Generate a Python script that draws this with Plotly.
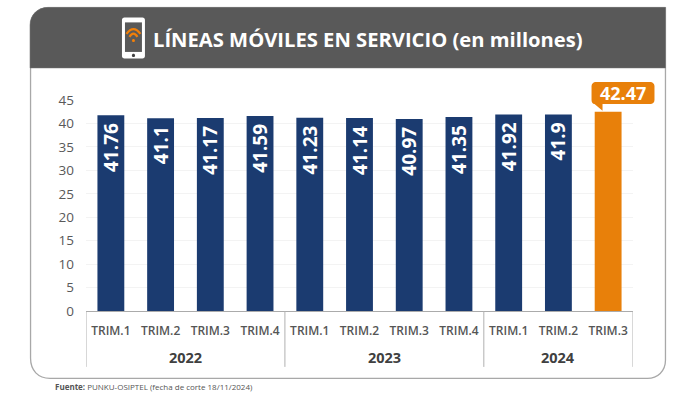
import plotly.graph_objects as go

years = ["2022", "2023", "2024"]
year_spans = [(0, 3), (4, 7), (8, 10)]
quarters = ["TRIM.1", "TRIM.2", "TRIM.3", "TRIM.4", "TRIM.1", "TRIM.2", "TRIM.3", "TRIM.4", "TRIM.1", "TRIM.2", "TRIM.3"]
values = [41.76, 41.1, 41.17, 41.59, 41.23, 41.14, 40.97, 41.35, 41.92, 41.9, 42.47]
value_labels = ["41.76", "41.1", "41.17", "41.59", "41.23", "41.14", "40.97", "41.35", "41.92", "41.9", ""]
colors = ["#1b3b70"] * 10 + ["#e8800a"]
y_ticks = [0, 5, 10, 15, 20, 25, 30, 35, 40, 45]
title_text = "LÍNEAS MÓVILES EN SERVICIO (en millones)"
source_bold = "Fuente:"
source_text = "PUNKU-OSIPTEL (fecha de corte 18/11/2024)"
callout_text = "42.47"

W, H = 700, 395
FONT = "Open Sans"
L, R, T, B = 86, 66.5, 100, 84.3
positions = list(range(len(values)))


def X(x):
    return (x - L) / (W - L - R)


def Y(y):
    return (H - B - y) / (H - T - B)


def path(*cmds):
    out = []
    for c in cmds:
        if isinstance(c, str):
            out.append(c)
        else:
            out.append(f"{X(c[0]):.5f},{Y(c[1]):.5f}")
    return " ".join(out)


def shape(p, fill=None, line=None, width=0, layer="below"):
    d = dict(type="path", path=p, xref="paper", yref="paper", layer=layer,
             line=dict(color=line or "rgba(0,0,0,0)", width=width))
    if fill:
        d["fillcolor"] = fill
    return d


def dot(cx, cy, r, fill):
    k = r * 1.33
    return shape(path("M", (cx - r, cy), "C", (cx - r, cy - k), (cx + r, cy - k), (cx + r, cy),
                      "C", (cx + r, cy + k), (cx - r, cy + k), (cx - r, cy), "Z"), fill=fill)


shapes = []
# card
shapes.append(shape(path("M", (30.5, 25), "C", (30.5, 15), (38, 8), (48, 8), "L", (666, 8), "L", (666, 360),
                         "C", (666, 371), (658, 378), (648, 378), "L", (50, 378),
                         "C", (38, 378), (30.5, 370), (30.5, 358), "Z"),
                    fill="#ffffff", line="#a8a8a8", width=1.3))
# header
shapes.append(shape(path("M", (30, 25), "C", (30, 15), (38, 7.5), (48, 7.5), "L", (666, 7.5), "L", (666, 68), "L", (30, 68), "Z"),
                    fill="#595959", line="#6e6e6e", width=0.5))
# phone
shapes.append(shape(path("M", (122, 20), "C", (122, 18.5), (123, 17.5), (124.5, 17.5), "L", (142.5, 17.5),
                         "C", (144, 17.5), (145, 18.5), (145, 20), "L", (145, 56), "C", (145, 57.5), (144, 58.5), (142.5, 58.5),
                         "L", (124.5, 58.5), "C", (123, 58.5), (122, 57.5), (122, 56), "Z"), fill="#ffffff"))
shapes.append(shape(path("M", (125, 22.5), "L", (142, 22.5), "L", (142, 52), "L", (125, 52), "Z"), fill="#595959"))
shapes.append(dot(133.5, 55.5, 1.6, "#404040"))
# wifi glyph
shapes.append(shape(path("M", (126.5, 34), "Q", (133.5, 24.5), (140.5, 34)), line="#f07f09", width=2.2))
shapes.append(shape(path("M", (129.5, 37), "Q", (133.5, 30.5), (137.5, 37)), line="#f07f09", width=2.2))
shapes.append(dot(133.5, 40.5, 1.5, "#f07f09"))
# callout above the last bar
shapes.append(shape(path("M", (592, 86), "C", (592, 84), (594, 82), (596, 82), "L", (651, 82),
                         "C", (653, 82), (655, 84), (655, 86), "L", (655, 100), "C", (655, 102.5), (653, 104), (651, 104),
                         "L", (603, 104), "L", (603, 110.7), "L", (595, 104), "C", (593, 104), (592, 102), (592, 100), "Z"),
                    fill="#e8800a"))
# year dividers under the axis
for start, _ in year_spans:
    shapes.append(dict(type="line", xref="x", yref="paper", x0=start - 0.5, x1=start - 0.5, y0=0, y1=Y(366.5),
                       line=dict(color="#b0b0b0", width=1), layer="above"))
shapes.append(dict(type="line", xref="x", yref="paper", x0=positions[-1] + 0.5, x1=positions[-1] + 0.5, y0=0, y1=Y(366.5),
                   line=dict(color="#b0b0b0", width=1), layer="above"))

annotations = [
    dict(text=f"<b>{title_text}</b>", xref="paper", yref="paper", x=X(151.5), y=Y(39), xanchor="left", yanchor="middle",
         showarrow=False, font=dict(family=FONT, size=20.2, color="#ffffff")),
    dict(text=f"<b>{source_bold}</b> {source_text}", xref="paper", yref="paper", x=X(53), y=Y(386.5), xanchor="left",
         yanchor="middle", showarrow=False, font=dict(family=FONT, size=8, color="#555555")),
    dict(text=f"<b>{callout_text}</b>", xref="paper", yref="paper", x=X(623.5), y=Y(93), xanchor="center",
         yanchor="middle", showarrow=False, font=dict(family=FONT, size=18, color="#ffffff")),
]
for year, (start, end) in zip(years, year_spans):
    annotations.append(dict(text=f"<b>{year}</b>", xref="x", yref="paper", x=(start + end) / 2, y=Y(357), xanchor="center",
                            yanchor="middle", showarrow=False, font=dict(family=FONT, size=14.5, color="#404040")))

fig = go.Figure(go.Bar(
    x=positions, y=values, marker=dict(color=colors, line=dict(width=0)),
    text=[t + "\u00a0" for t in value_labels], textposition="inside", insidetextanchor="end", textangle=-90,
    insidetextfont=dict(family=FONT, size=19, color="#ffffff", weight="bold"),
    cliponaxis=False, hoverinfo="skip",
))
fig.update_layout(
    width=W, height=H, autosize=False, margin=dict(l=L, r=R, t=T, b=B, pad=0),
    paper_bgcolor="#ffffff", plot_bgcolor="rgba(0,0,0,0)", bargap=0.46, showlegend=False,
    shapes=shapes, annotations=annotations, font=dict(family=FONT),
    uniformtext=dict(mode="show", minsize=19),
)
fig.update_xaxes(
    range=[-0.5, positions[-1] + 0.5], tickmode="array", tickvals=positions, ticktext=quarters, tickangle=0,
    showline=True, linecolor="#ababab", linewidth=1, ticks="", showgrid=False, zeroline=False, ticklabelstandoff=9,
    tickfont=dict(family=FONT, size=12, color="#555555", weight=600),
)
fig.update_yaxes(
    range=[0, 45], tickmode="array", tickvals=y_ticks, showline=False, zeroline=False, showgrid=True,
    gridcolor="#f3f3f3", gridwidth=1, ticks="", ticklabelstandoff=11,
    tickfont=dict(family=FONT, size=13.5, color="#595959"),
)
fig.write_html("out.html", config=dict(displayModeBar=False),
               post_script="document.body.style.margin='0';")
